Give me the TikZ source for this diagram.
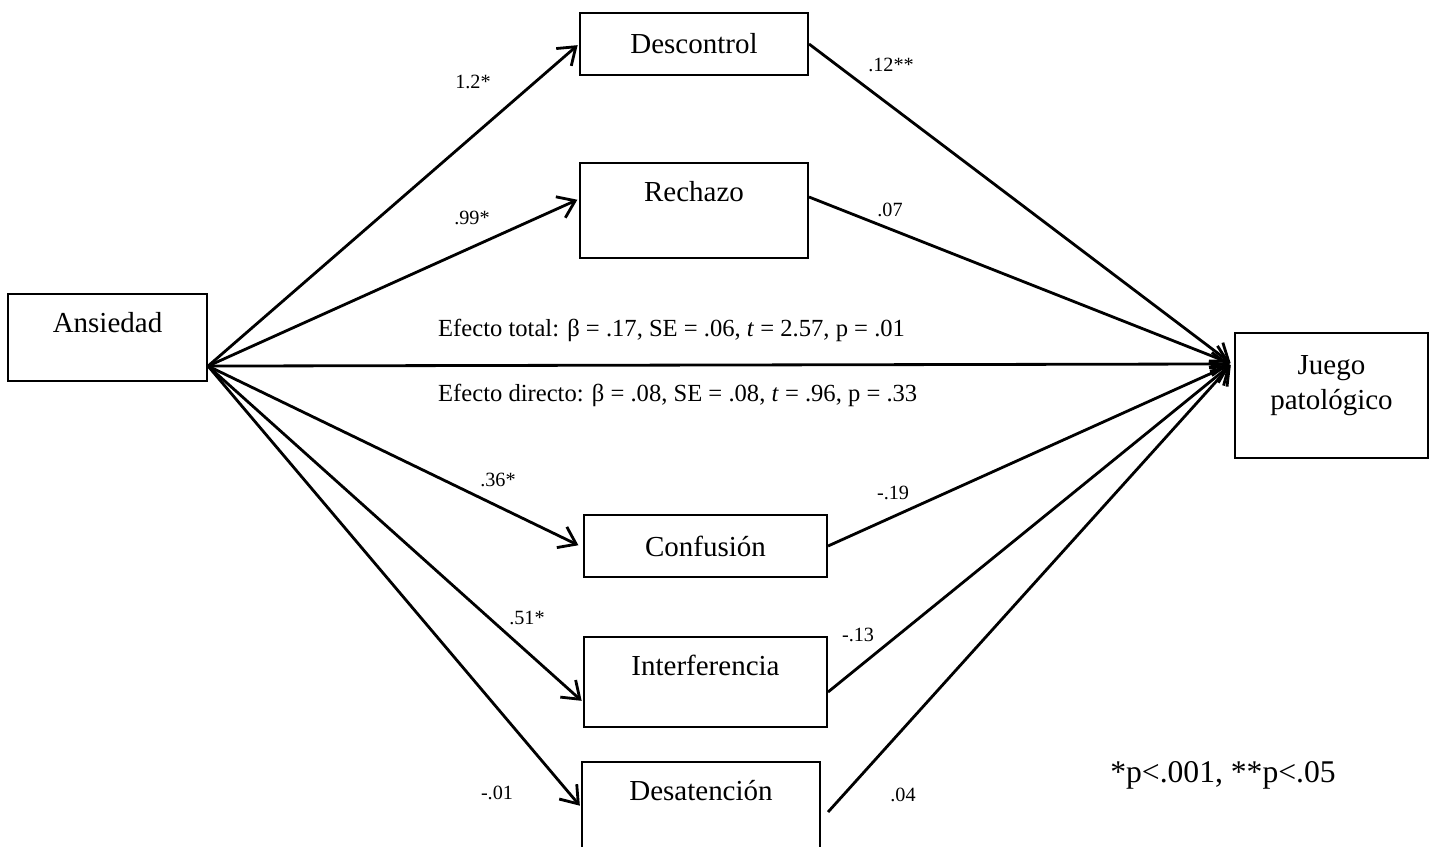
\documentclass[tikz,border=0pt]{standalone}
\usepackage{fontspec}
\setmainfont{Liberation Serif}
\usetikzlibrary{arrows.meta}

\tikzset{
  box/.style={draw, line width=1.2pt, inner sep=0pt, align=center,
    font=\fontsize{16.5}{19.8}\selectfont},
  topbox/.style={box, text height=0.76cm},
  arr/.style={line width=1.6pt, shorten >=1pt,
    -{Straight Barb[length=0.32cm, width=0.46cm]}},
  coef/.style={font=\fontsize{11.5}{13}\selectfont},
  eff/.style={font=\fontsize{14}{16}\selectfont, anchor=west},
  note/.style={font=\fontsize{18}{21}\selectfont}
}

\begin{document}
\begin{tikzpicture}[x=0.02cm, y=-0.02cm]
\useasboundingbox (0,0) rectangle (1435,846);

% boxes
\node [topbox, minimum width=3.98cm, text depth=0.98cm] (ans) at (107.5,337.5) {Ansiedad};
\node [box, minimum width=3.86cm, minimum height=2.5cm, text depth=0.51cm] (jp) at (1331.5,395.5) {Juego\\patológico};
\node [box, minimum width=4.56cm, minimum height=1.24cm] (desc) at (694,44) {Descontrol};
\node [topbox, minimum width=4.56cm, text depth=1.14cm] (rech) at (694,210.5) {Rechazo};
\node [box, minimum width=4.86cm, minimum height=1.24cm] (conf) at (705.5,546) {Confusión};
\node [topbox, minimum width=4.86cm, text depth=1.04cm] (intf) at (705.5,682) {Interferencia};
\node [topbox, minimum width=4.76cm, text depth=1.04cm] (desa) at (701,807) {Desatención};

\coordinate (src) at ([yshift=0.32cm]ans.south east);
\coordinate (dst) at ([xshift=-0.04cm,yshift=-0.64cm]jp.north west);

% paths a
\draw [arr] (src) -- (desc.west);
\draw [arr] (src) -- ([yshift=0.23cm]rech.west);
\draw [arr] (src) -- ([xshift=-0.06cm]conf.west);
\draw [arr] (src) -- ([yshift=-0.4cm]intf.west);
\draw [arr] (src) -- (desa.west);
\draw [arr] (src) -- (dst);

% paths b
\draw [arr] (desc.east) -- (dst);
\draw [arr] ([yshift=0.27cm]rech.east) -- (dst);
\draw [arr] (conf.east) -- (dst);
\draw [arr] ([yshift=-0.2cm]intf.east) -- (dst);
\draw [arr] ([xshift=0.14cm,yshift=-0.1cm]desa.east) -- (dst);

% coefficients
\node [coef] (ad) at (473,82) {1.2*};
\node [coef] (ar) at (472,218) {.99*};
\node [coef] (ac) at (498,480) {.36*};
\node [coef] (ai) at (527,618) {.51*};
\node [coef] (as) at (497,793) {-.01};
\node [coef] (dj) at (891,65) {.12**};
\node [coef] (rj) at (890,210) {.07};
\node [coef] (cj) at (893,493) {-.19};
\node [coef] (ij) at (858,635) {-.13};
\node [coef] (sj) at (903,795) {.04};

\node [eff] (tot) at (432,330) {Efecto total: β = .17, SE = .06, \textit{t} = 2.57, p = .01};
\node [eff] (dir) at (432,395) {Efecto directo: β = .08, SE = .08, \textit{t} = .96, p = .33};
\node [note] (sig) at (1223,775) {*p<.001, **p<.05};
\end{tikzpicture}
\end{document}
